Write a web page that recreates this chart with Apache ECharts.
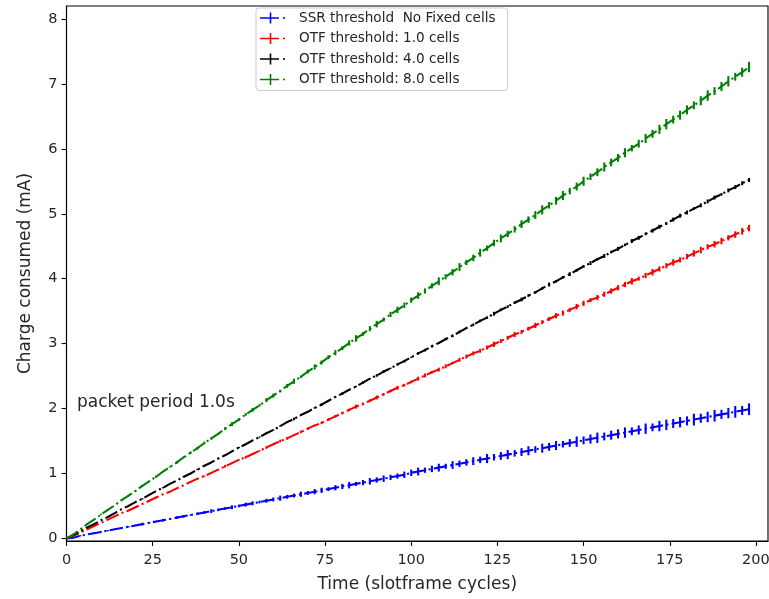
<!DOCTYPE html>
<html>
<head>
<meta charset="utf-8">
<script src="https://cdn.jsdelivr.net/npm/echarts@6/dist/echarts.min.js"></script>
<style>html,body{margin:0;padding:0;background:#fff;}#c{width:769px;height:599px;}</style>
</head>
<body>
<div id="c"></div>
<script>
// x positions: slotframe cycles sampled every 2 cycles (0..198)
const cycleStep = 2;
const seriesNames = ['SSR threshold  No Fixed cells', 'OTF threshold: 1.0 cells', 'OTF threshold: 4.0 cells', 'OTF threshold: 8.0 cells'];
const seriesColors = ['#0000ff', '#ff0000', '#000000', '#008000'];
const xTicks = [0, 25, 50, 75, 100, 125, 150, 175, 200];
const yTicks = [0, 1, 2, 3, 4, 5, 6, 7, 8];

const ssrNoFixed = [0.00,0.01,0.04,0.06,0.08,0.10,0.12,0.14,0.16,0.18,0.20,0.22,0.24,0.26,0.28,0.30,0.32,0.34,0.36,0.38,
0.40,0.42,0.44,0.46,0.48,0.50,0.52,0.54,0.56,0.58,0.60,0.62,0.64,0.66,0.68,0.70,0.72,0.74,0.76,0.78,
0.80,0.82,0.84,0.86,0.88,0.90,0.92,0.94,0.96,0.98,1.01,1.03,1.05,1.07,1.09,1.11,1.13,1.15,1.17,1.19,
1.21,1.23,1.25,1.27,1.29,1.31,1.33,1.35,1.37,1.39,1.41,1.43,1.45,1.47,1.49,1.51,1.53,1.55,1.57,1.59,
1.61,1.63,1.65,1.67,1.69,1.71,1.73,1.75,1.77,1.79,1.81,1.83,1.85,1.87,1.89,1.91,1.93,1.95,1.97,1.99];
const otf1 = [0.00,0.04,0.09,0.14,0.19,0.24,0.29,0.34,0.39,0.43,0.48,0.53,0.58,0.63,0.68,0.72,0.77,0.82,0.87,0.92,
0.96,1.01,1.06,1.11,1.16,1.21,1.25,1.30,1.35,1.40,1.45,1.50,1.54,1.59,1.64,1.69,1.74,1.78,1.83,1.88,
1.93,1.98,2.03,2.07,2.12,2.17,2.22,2.27,2.32,2.36,2.41,2.46,2.51,2.56,2.60,2.65,2.70,2.75,2.80,2.85,
2.89,2.94,2.99,3.04,3.09,3.14,3.18,3.23,3.28,3.33,3.38,3.43,3.47,3.52,3.57,3.62,3.67,3.71,3.76,3.81,
3.86,3.91,3.96,4.00,4.05,4.10,4.15,4.20,4.25,4.29,4.34,4.39,4.44,4.49,4.53,4.58,4.63,4.68,4.73,4.78];
const otf4 = [0.00,0.05,0.11,0.17,0.22,0.28,0.33,0.39,0.45,0.50,0.56,0.61,0.67,0.73,0.78,0.84,0.89,0.95,1.00,1.06,
1.12,1.17,1.23,1.28,1.34,1.40,1.45,1.51,1.56,1.62,1.67,1.73,1.79,1.84,1.90,1.95,2.01,2.06,2.12,2.18,
2.23,2.29,2.34,2.40,2.46,2.51,2.57,2.62,2.68,2.73,2.79,2.85,2.90,2.96,3.01,3.07,3.12,3.18,3.24,3.29,
3.35,3.40,3.46,3.52,3.57,3.63,3.68,3.74,3.79,3.85,3.91,3.96,4.02,4.07,4.13,4.19,4.24,4.30,4.35,4.41,
4.46,4.52,4.58,4.63,4.69,4.74,4.80,4.85,4.91,4.97,5.02,5.08,5.13,5.19,5.25,5.30,5.36,5.41,5.47,5.52];
const otf8 = [0.00,0.06,0.14,0.22,0.29,0.37,0.44,0.51,0.59,0.66,0.73,0.81,0.88,0.95,1.03,1.10,1.17,1.25,1.32,1.39,
1.47,1.54,1.61,1.69,1.76,1.83,1.91,1.98,2.05,2.13,2.20,2.27,2.35,2.42,2.49,2.57,2.64,2.71,2.79,2.86,
2.93,3.01,3.08,3.15,3.23,3.30,3.37,3.45,3.52,3.59,3.67,3.74,3.81,3.89,3.96,4.03,4.10,4.18,4.25,4.32,
4.40,4.47,4.55,4.62,4.69,4.76,4.84,4.91,4.98,5.06,5.13,5.20,5.28,5.35,5.42,5.50,5.57,5.64,5.72,5.79,
5.86,5.94,6.01,6.08,6.16,6.23,6.30,6.38,6.45,6.52,6.60,6.67,6.74,6.82,6.89,6.96,7.04,7.11,7.18,7.26];

// error bar half-widths (mA)
const ssrNoFixedErr = [0,0.00,0.01,0.00,0.01,0.01,0.01,0.00,0.01,0.01,0.01,0.02,0.01,0.01,0.02,0.01,0.02,0.02,0.01,0.02,
0.02,0.03,0.02,0.02,0.03,0.02,0.03,0.03,0.02,0.03,0.03,0.04,0.03,0.03,0.04,0.03,0.04,0.04,0.03,0.04,
0.04,0.05,0.03,0.04,0.05,0.04,0.05,0.04,0.04,0.05,0.05,0.06,0.04,0.05,0.06,0.04,0.06,0.05,0.05,0.06,
0.05,0.07,0.05,0.06,0.07,0.05,0.06,0.07,0.05,0.07,0.06,0.07,0.05,0.06,0.08,0.06,0.07,0.08,0.06,0.07,
0.07,0.08,0.06,0.07,0.08,0.06,0.08,0.08,0.07,0.08,0.07,0.09,0.07,0.08,0.09,0.07,0.08,0.09,0.07,0.09];
const otf1Err = [0,0,0,0,0,0,0,0.01,0,0,0.01,0,0.01,0.01,0,0.01,0.01,0,0.01,0.01,
0.01,0.01,0.01,0.02,0.01,0.01,0.02,0.01,0.01,0.02,0.01,0.02,0.02,0.01,0.02,0.02,0.01,0.02,0.02,0.02,
0.02,0.02,0.03,0.02,0.02,0.03,0.02,0.02,0.03,0.02,0.02,0.03,0.03,0.02,0.03,0.03,0.02,0.03,0.03,0.03,
0.03,0.03,0.04,0.03,0.03,0.04,0.03,0.03,0.04,0.03,0.03,0.04,0.04,0.03,0.04,0.04,0.03,0.04,0.04,0.04,
0.04,0.04,0.05,0.03,0.04,0.05,0.04,0.04,0.05,0.04,0.04,0.05,0.05,0.04,0.05,0.05,0.04,0.05,0.05,0.05];
const otf4Err = [0,0,0,0,0,0,0,0,0,0,0,0.01,0,0,0.01,0,0,0.01,0,0.01,
0.01,0,0.01,0.01,0,0.01,0.01,0,0.01,0.01,0.01,0.01,0.01,0.02,0.01,0.01,0.01,0.02,0.01,0.01,
0.02,0.01,0.01,0.02,0.01,0.02,0.02,0.01,0.02,0.02,0.01,0.02,0.02,0.02,0.01,0.02,0.02,0.02,0.01,0.02,
0.02,0.02,0.03,0.02,0.02,0.02,0.03,0.02,0.02,0.02,0.03,0.02,0.02,0.03,0.02,0.02,0.03,0.02,0.03,0.02,
0.03,0.02,0.03,0.03,0.02,0.03,0.03,0.02,0.03,0.03,0.03,0.02,0.03,0.03,0.03,0.02,0.03,0.03,0.03,0.03];
const otf8Err = [0,0.00,0.00,0.01,0.00,0.01,0.01,0.00,0.01,0.01,0.01,0.01,0.01,0.02,0.01,0.01,0.02,0.01,0.02,0.02,
0.02,0.02,0.01,0.02,0.03,0.02,0.02,0.03,0.02,0.03,0.03,0.02,0.03,0.04,0.02,0.03,0.04,0.03,0.03,0.04,
0.03,0.04,0.05,0.03,0.04,0.05,0.03,0.04,0.05,0.04,0.04,0.05,0.04,0.04,0.06,0.04,0.05,0.06,0.04,0.05,
0.06,0.04,0.05,0.06,0.05,0.05,0.06,0.05,0.06,0.07,0.05,0.06,0.07,0.05,0.06,0.07,0.05,0.06,0.07,0.06,
0.06,0.07,0.05,0.06,0.07,0.06,0.07,0.08,0.06,0.07,0.07,0.06,0.07,0.08,0.06,0.07,0.08,0.06,0.07,0.08];

const values = [ssrNoFixed, otf1, otf4, otf8];
const errors = [ssrNoFixedErr, otf1Err, otf4Err, otf8Err];

const legendIcon = 'path://M0,4.7H19V6.3H0Z M9.7,0H11.3V11H9.7Z M23,4.7H25V6.3H23Z';
const textColor = '#262626';
const series = [];
values.forEach(function (vals, s) {
  const pts = vals.map(function (v, i) { return [i * cycleStep, v]; });
  const errPts = vals.map(function (v, i) { return [i * cycleStep, v, errors[s][i]]; });
  const color = seriesColors[s];
  series.push({
    name: seriesNames[s], type: 'line', data: pts, showSymbol: false, symbol: 'none',
    color: color, z: 3 + s * 2 + 1, clip: true,
    lineStyle: { color: color, width: 2.08, type: [13.3, 3.3, 2.1, 3.3] },
    emphasis: { disabled: true }, silent: true
  });
  series.push({
    name: seriesNames[s], type: 'custom', data: errPts, z: 3 + s * 2, clip: true, silent: true,
    renderItem: function (params, api) {
      const x = api.value(0), y = api.value(1), e = api.value(2);
      if (!(e > 0)) return null;
      const p1 = api.coord([x, y - e]);
      const p2 = api.coord([x, y + e]);
      return { type: 'line', shape: { x1: p1[0], y1: p1[1], x2: p2[0], y2: p2[1] },
        style: { stroke: color, lineWidth: 2.08 } };
    }
  });
});

const chart = echarts.init(document.getElementById('c'), null, { renderer: 'canvas' });
chart.setOption({
  animation: false,
  backgroundColor: '#fff',
  grid: { left: 66.5, right: 1, top: 6, bottom: 58, show: true, borderColor: '#000', borderWidth: 1.1,
    backgroundColor: 'transparent', containLabel: false, outerBoundsMode: 'none' },
  legend: {
    left: 256, top: 8, orient: 'vertical', selectedMode: false,
    data: seriesNames.map(function (n, i) { return { name: n, icon: legendIcon, itemStyle: { color: seriesColors[i] } }; }),
    itemWidth: 25, itemHeight: 11, itemGap: 6.5,
    padding: [3, 12, 4, 4],
    backgroundColor: '#fff', borderColor: '#cccccc', borderWidth: 1, borderRadius: 3,
    textStyle: { fontFamily: 'DejaVu Sans', fontSize: 13.6, color: textColor, lineHeight: 14, padding: [0, 0, 0, 9] }
  },
  xAxis: {
    type: 'value', min: 0, max: 203.5,
    name: 'Time (slotframe cycles)', nameLocation: 'middle', nameGap: 35,
    nameTextStyle: { fontFamily: 'DejaVu Sans', fontSize: 17, color: textColor },
    axisLine: { show: true, onZero: false, lineStyle: { color: '#000', width: 1.1 } },
    axisTick: { show: true, inside: false, length: 4.9, lineStyle: { color: '#000', width: 1.1 }, customValues: xTicks },
    axisLabel: { fontFamily: 'DejaVu Sans', fontSize: 14.5, color: textColor, margin: 12, customValues: xTicks },
    splitLine: { show: false }
  },
  yAxis: {
    type: 'value', min: -0.04, max: 8.2,
    name: 'Charge consumed (mA)', nameLocation: 'middle', nameGap: 32, nameRotate: 90,
    nameTextStyle: { fontFamily: 'DejaVu Sans', fontSize: 17, color: textColor },
    axisLine: { show: true, onZero: false, lineStyle: { color: '#000', width: 1.1 } },
    axisTick: { show: true, inside: false, length: 4.9, lineStyle: { color: '#000', width: 1.1 }, customValues: yTicks },
    axisLabel: { fontFamily: 'DejaVu Sans', fontSize: 14.5, color: textColor, margin: 9, customValues: yTicks },
    splitLine: { show: false }
  },
  graphic: [{
    type: 'text', left: 77, top: 394, silent: true,
    style: { text: 'packet period 1.0s', font: '17px "DejaVu Sans"', fill: textColor }
  }],
  series: series
});
</script>
</body>
</html>
